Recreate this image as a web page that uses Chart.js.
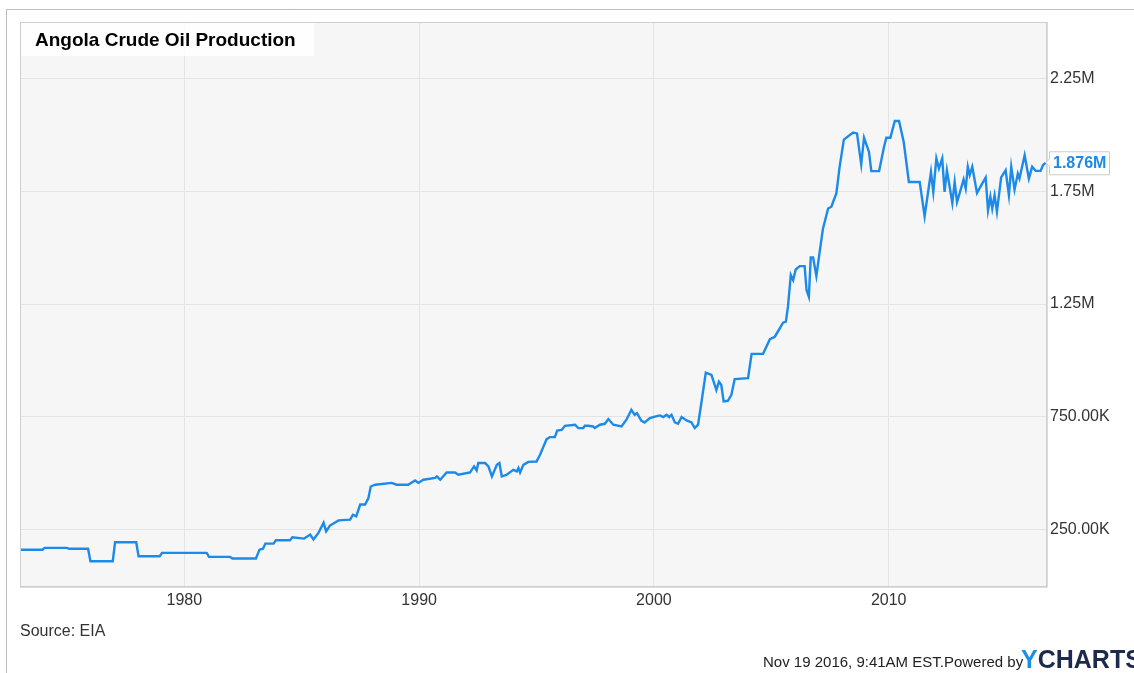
<!DOCTYPE html>
<html><head><meta charset="utf-8">
<script src="https://cdn.jsdelivr.net/npm/chart.js@4/dist/chart.umd.min.js"></script>
<style>html,body{margin:0;padding:0;background:#fff;overflow:hidden}canvas{display:block}</style>
</head><body>
<canvas id="c" width="1134" height="673"></canvas>
<script>
const chartTitle = "Angola Crude Oil Production";
const sourceText = "Source: EIA";
const footerText = "Nov 19 2016, 9:41AM EST.Powered by";
const lastLabel = "1.876M";
const xTickYears = [1980, 1990, 2000, 2010];
const yTickValues = [250000, 750000, 1250000, 1750000, 2250000];

// time in decimal years
const years = [
1973.0,1973.95,1974.05,1975.0,1975.1,1975.9,1976.0,1976.95,1977.05,1977.95,1978.05,1978.95,1979.05,1980.95,1981.05,1981.95,1982.05,1983.05,
1983.2,1983.35,1983.45,1983.8,1983.9,1984.5,1984.6,1985.1,1985.36,1985.5,1985.71,1985.93,1986.04,1986.2,1986.57,1987.06,1987.18,1987.32,1987.49,1987.7,1987.84,1987.94,1988.13,
1988.83,1989.04,1989.53,1989.83,1989.97,1990.18,1990.69,1990.76,1990.9,1991.17,1991.53,1991.67,1992.17,1992.34,1992.45,1992.52,1992.81,1992.95,1993.1,1993.31,1993.42,1993.52,1993.73,
1994.01,1994.16,1994.23,1994.3,1994.44,1994.65,1995.0,1995.15,1995.43,1995.57,1995.78,1995.88,1996.07,1996.21,1996.64,1996.78,1996.99,1997.06,1997.2,1997.41,1997.48,1997.7,1997.91,
1998.06,1998.27,1998.62,1998.83,1998.97,1999.04,1999.18,1999.28,1999.46,1999.6,1999.83,2000.04,2000.26,2000.4,2000.54,2000.65,2000.75,2000.89,2001.03,2001.18,2001.39,2001.6,2001.74,2001.88,
2002.03,2002.21,2002.45,2002.66,2002.77,2002.87,2002.97,2003.15,2003.3,2003.44,2004.01,2004.16,2004.65,2004.94,2005.15,2005.36,2005.5,2005.62,2005.71,2005.83,2005.93,2006.04,2006.21,2006.42,
2006.5,2006.6,2006.68,2006.78,2006.92,2007.06,2007.2,2007.42,2007.56,2007.66,2007.77,2007.91,2008.09,2008.48,2008.65,2008.83,2008.95,2009.16,2009.26,2009.59,2009.8,2009.9,2010.07,2010.26,
2010.44,2010.64,2010.86,2011.32,2011.53,2011.8,2011.9,2012.03,2012.14,2012.28,2012.38,2012.48,2012.71,2012.81,2012.91,2013.02,2013.19,2013.28,2013.37,2013.45,2013.56,2013.76,2013.94,
2014.13,2014.23,2014.33,2014.41,2014.51,2014.61,2014.79,2014.98,2015.12,2015.22,2015.36,2015.5,2015.57,2015.79,2015.97,2016.11,2016.26,2016.47,2016.57,2016.68
];
// crude oil production, thousand barrels per day
const production = [
161,161,169,169,165,165,110,110,194,194,132,132,147,147,129,129,122,122,
161,165,188,188,203,203,216,210,228,206,235,280,242,268,291,294,316,309,361,361,390,441,449,
457,449,449,468,457,471,479,486,471,503,503,493,503,530,512,545,545,530,486,537,545,486,493,
515,508,523,503,537,550,552,582,651,660,660,689,692,710,715,700,700,710,710,707,700,715,719,
740,715,707,737,766,781,759,766,733,725,744,751,756,749,759,749,759,725,719,749,734,725,700,715,
818,946,936,869,906,891,818,821,847,917,921,1029,1029,1094,1105,1142,1167,1172,1238,1378,1356,1403,1418,1418,
1312,1282,1456,1456,1374,1481,1584,1673,1681,1710,1740,1858,1979,2010,2006,1869,1987,1924,1839,1839,1946,1987,1987,2061,
2061,1968,1791,1791,1639,1835,1747,1895,1851,1895,1747,1842,1698,1791,1702,1740,1802,1762,1858,1821,1858,1742,1776,
1811,1665,1725,1673,1732,1659,1811,1843,1732,1858,1757,1828,1806,1909,1806,1858,1840,1840,1865,1876
];

const points = years.map((y, i) => ({ x: y, y: production[i] * 1000 }));

function fmtY(v) {
  if (v >= 1e6) return (v / 1e6).toFixed(2) + 'M';
  return (v / 1e3).toFixed(2) + 'K';
}

const decor = {
  id: 'decor',
  beforeDraw(chart) {
    const { ctx, chartArea: a } = chart;
    ctx.save();
    ctx.fillStyle = '#ffffff';
    ctx.fillRect(0, 0, chart.width, chart.height);
    ctx.strokeStyle = '#bdbdbd';
    ctx.lineWidth = 1;
    ctx.beginPath();
    ctx.moveTo(6.5, 673); ctx.lineTo(6.5, 9.5); ctx.lineTo(1134, 9.5);
    ctx.stroke();
    ctx.fillStyle = '#f6f6f6';
    ctx.fillRect(a.left, a.top, a.right - a.left, a.bottom - a.top);
    ctx.restore();
  },
  afterDraw(chart) {
    const { ctx, chartArea: a } = chart;
    ctx.save();
    ctx.strokeStyle = '#cfcfcf';
    ctx.lineWidth = 1;
    ctx.strokeRect(a.left + 0.5, a.top + 0.5, a.right - a.left, a.bottom - a.top);
    ctx.strokeStyle = '#dcdcdc';
    ctx.beginPath();
    ctx.moveTo(a.left, a.bottom + 1.5); ctx.lineTo(a.right + 1.5, a.bottom + 1.5); ctx.lineTo(a.right + 1.5, a.top);
    ctx.stroke();
    // title box
    ctx.fillStyle = 'rgba(255,255,255,0.85)';
    ctx.fillRect(a.left + 1, a.top + 1, 293, 33);
    ctx.fillStyle = '#000000';
    ctx.font = 'bold 19px "Liberation Sans", Arial, sans-serif';
    ctx.textBaseline = 'alphabetic';
    ctx.textAlign = 'left';
    ctx.fillText(chartTitle, 35, 46);
    ctx.fillStyle = '#333333';
    ctx.font = '16px "Liberation Sans", Arial, sans-serif';
    ctx.fillText(sourceText, 20, 636);
    ctx.fillStyle = '#222222';
    ctx.font = '15px "Liberation Sans", Arial, sans-serif';
    ctx.fillText(footerText, 763, 667);
    ctx.font = 'bold 25px "Liberation Sans", Arial, sans-serif';
    ctx.fillStyle = '#1a8fe3';
    ctx.fillText('Y', 1021, 668);
    const yw = ctx.measureText('Y').width;
    ctx.fillStyle = '#1c2b4b';
    ctx.fillText('CHARTS', 1021 + yw, 668);
    // last value label
    const meta = chart.getDatasetMeta(0);
    const last = meta.data[meta.data.length - 1];
    const ly = last.y;
    const bx = 1049, bw = 60, bh = 23;
    ctx.fillStyle = '#ffffff';
    ctx.strokeStyle = '#cccccc';
    ctx.beginPath();
    ctx.moveTo(bx + 0.5, ly - bh / 2 + 0.5);
    ctx.lineTo(bx + bw + 0.5, ly - bh / 2 + 0.5);
    ctx.lineTo(bx + bw + 0.5, ly + bh / 2 + 0.5);
    ctx.lineTo(bx + 0.5, ly + bh / 2 + 0.5);
    ctx.lineTo(bx + 0.5, ly + 4);
    ctx.lineTo(bx - 3, ly);
    ctx.lineTo(bx + 0.5, ly - 4);
    ctx.closePath();
    ctx.fill();
    ctx.stroke();
    ctx.fillStyle = '#1b8ae8';
    ctx.font = 'bold 16px "Liberation Sans", Arial, sans-serif';
    ctx.textBaseline = 'middle';
    ctx.fillText(lastLabel, bx + 4, ly + 1);
    ctx.restore();
  }
};

new Chart(document.getElementById('c'), {
  type: 'line',
  data: {
    datasets: [{
      data: points,
      borderColor: '#1b8ae8',
      borderWidth: 2.4,
      pointRadius: 0,
      tension: 0,
      fill: false
    }]
  },
  options: {
    responsive: false,
    animation: false,
    layout: { padding: { left: 20, top: 22, right: 0, bottom: 0 } },
    plugins: { legend: { display: false }, tooltip: { enabled: false }, title: { display: false } },
    scales: {
      x: {
        type: 'linear',
        position: 'bottom',
        min: 1973.0,
        max: 2016.7,
        grid: { color: '#e4e4e4', drawTicks: false },
        border: { display: false },
        afterBuildTicks: s => { s.ticks = xTickYears.map(v => ({ value: v })); },
        afterFit: s => { s.height = 87; },
        ticks: {
          color: '#333333',
          font: { family: '"Liberation Sans", Arial, sans-serif', size: 16 },
          padding: 5,
          maxRotation: 0,
          autoSkip: false,
          callback: v => String(v)
        }
      },
      y: {
        position: 'right',
        min: 0,
        max: 2500000,
        grid: { color: '#e4e4e4', drawTicks: false },
        border: { display: false },
        afterBuildTicks: s => { s.ticks = yTickValues.map(v => ({ value: v })); },
        afterFit: s => { s.width = 88; },
        ticks: {
          color: '#333333',
          font: { family: '"Liberation Sans", Arial, sans-serif', size: 16 },
          padding: 4,
          autoSkip: false,
          callback: v => fmtY(v)
        }
      }
    }
  },
  plugins: [decor]
});
</script>
</body></html>
